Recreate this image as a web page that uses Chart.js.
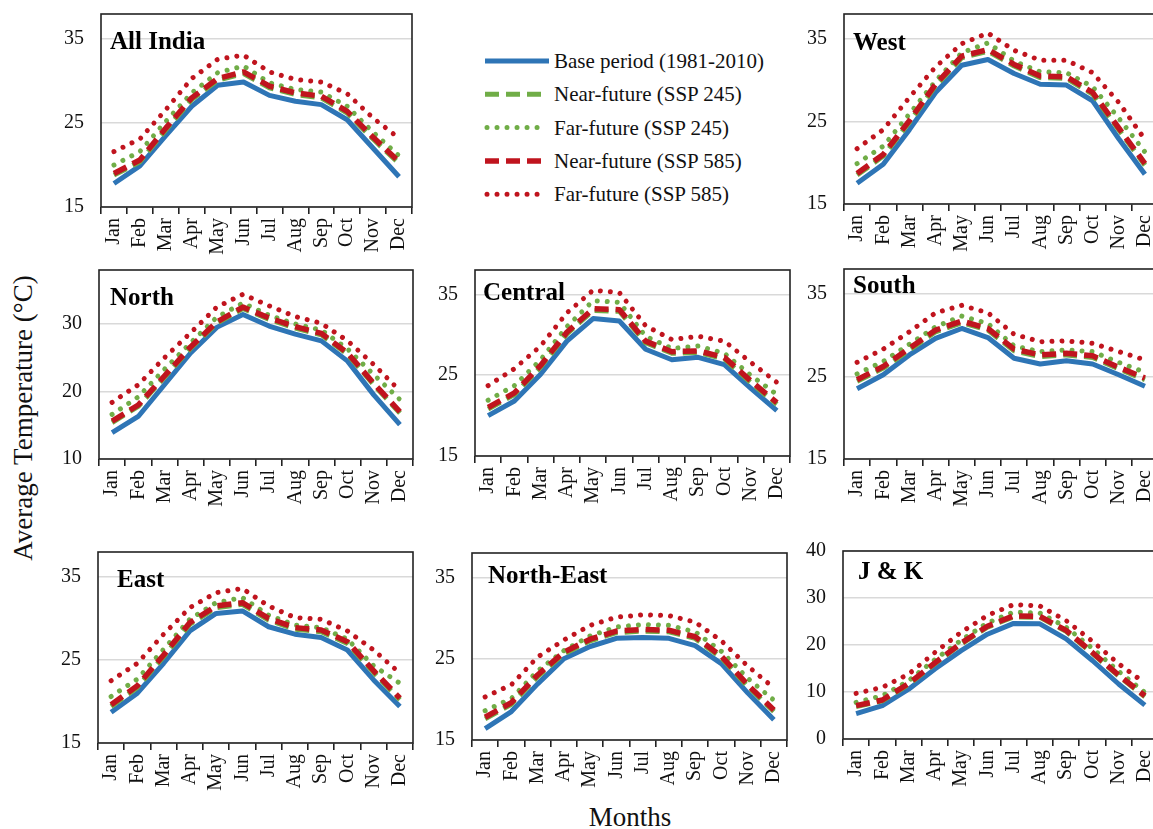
<!DOCTYPE html>
<html>
<head>
<meta charset="utf-8">
<script src="https://cdn.jsdelivr.net/npm/chart.js@4/dist/chart.umd.min.js"></script>
<style>
  html, body { margin: 0; padding: 0; background: #fff; overflow: hidden; }
  body { width: 1153px; height: 829px; position: relative; font-family: "Liberation Serif", "Times New Roman", serif; color: #111; }
  .panel { position: absolute; }
  .ytitle { position: absolute; left: 23px; top: 418px; transform: translate(-50%, -50%) rotate(-90deg); font-size: 27px; white-space: nowrap; }
  .xtitle { position: absolute; left: 630px; top: 817px; transform: translate(-50%, -50%); font-size: 27px; white-space: nowrap; }
  #legend { position: absolute; left: 480px; top: 40px; width: 320px; height: 175px; }
  #legend text { font-family: "Liberation Serif", "Times New Roman", serif; font-size: 21px; fill: #111; }
</style>
</head>
<body>
<div class="ytitle">Average Temperature (°C)</div>
<div class="xtitle">Months</div>
<svg id="legend" width="320" height="175"></svg>

<script>
const months = ['Jan', 'Feb', 'Mar', 'Apr', 'May', 'Jun', 'Jul', 'Aug', 'Sep', 'Oct', 'Nov', 'Dec'];
const seriesNames = ['Base period (1981-2010)', 'Near-future (SSP 245)', 'Far-future (SSP 245)', 'Near-future (SSP 585)', 'Far-future (SSP 585)'];

// All India
const allIndiaBase    = [17.8, 19.9, 23.5, 27.0, 29.5, 29.9, 28.3, 27.6, 27.2, 25.4, 22.0, 18.6];
const allIndiaNear245 = [18.8, 20.4, 24.2, 27.8, 30.1, 30.9, 29.2, 28.4, 28.0, 26.2, 23.1, 20.2];
const allIndiaFar245  = [20.0, 21.6, 25.2, 28.6, 31.0, 31.8, 29.8, 29.0, 28.7, 27.0, 23.9, 21.1];
const allIndiaNear585 = [19.0, 20.6, 24.4, 28.0, 30.3, 31.1, 29.4, 28.6, 28.2, 26.4, 23.3, 20.4];
const allIndiaFar585  = [21.6, 23.1, 26.6, 30.3, 32.6, 33.1, 31.1, 30.2, 29.9, 28.5, 25.6, 23.2];

// West
const westBase    = [17.5, 19.8, 24.0, 28.5, 31.8, 32.5, 30.8, 29.5, 29.4, 27.5, 22.9, 18.6];
const westNear245 = [18.5, 20.8, 24.9, 29.3, 32.7, 33.5, 31.7, 30.3, 30.2, 28.3, 24.0, 19.7];
const westFar245  = [19.9, 22.0, 25.9, 29.9, 33.3, 34.5, 32.3, 31.0, 30.9, 29.2, 25.4, 21.3];
const westNear585 = [18.7, 21.0, 25.1, 29.5, 32.9, 33.7, 31.9, 30.5, 30.4, 28.5, 24.2, 19.9];
const westFar585  = [21.7, 24.0, 27.9, 31.6, 34.4, 35.7, 33.6, 32.4, 32.4, 30.9, 27.3, 22.8];

// North
const northBase    = [13.9, 16.3, 21.0, 25.7, 29.5, 31.4, 29.7, 28.5, 27.5, 24.5, 19.5, 15.1];
const northNear245 = [15.4, 17.8, 22.1, 26.4, 30.1, 32.3, 30.7, 29.4, 28.4, 25.5, 21.0, 16.8];
const northFar245  = [16.6, 19.2, 23.3, 27.2, 31.0, 33.1, 31.3, 30.0, 29.1, 26.3, 22.5, 18.8];
const northNear585 = [15.6, 18.0, 22.3, 26.6, 30.3, 32.5, 30.9, 29.6, 28.6, 25.7, 21.2, 17.0];
const northFar585  = [18.4, 21.0, 25.0, 28.7, 32.5, 34.4, 32.7, 31.1, 30.1, 27.5, 24.0, 20.1];

// Central
const centralBase    = [20.0, 21.8, 25.1, 29.2, 32.0, 31.7, 28.2, 26.9, 27.2, 26.3, 23.4, 20.6];
const centralNear245 = [20.8, 22.6, 26.0, 30.1, 33.0, 32.9, 29.0, 27.7, 27.8, 27.0, 24.1, 21.4];
const centralFar245  = [21.9, 23.7, 26.9, 31.0, 34.2, 34.0, 29.8, 28.3, 28.6, 27.7, 25.0, 22.6];
const centralNear585 = [21.0, 22.8, 26.2, 30.3, 33.2, 33.1, 29.2, 27.9, 28.0, 27.2, 24.3, 21.6];
const centralFar585  = [23.7, 25.8, 28.6, 32.7, 35.5, 35.2, 31.1, 29.4, 29.8, 29.2, 26.6, 24.1];

// South
const southBase    = [23.5, 25.2, 27.6, 29.6, 30.8, 29.7, 27.2, 26.5, 26.9, 26.5, 25.2, 23.8];
const southNear245 = [24.4, 26.0, 28.2, 30.4, 31.5, 30.6, 28.1, 27.4, 27.6, 27.3, 25.9, 24.6];
const southFar245  = [25.3, 26.8, 28.9, 31.0, 32.3, 31.4, 28.7, 28.0, 28.2, 28.0, 26.7, 25.5];
const southNear585 = [24.6, 26.2, 28.4, 30.6, 31.7, 30.8, 28.3, 27.6, 27.8, 27.5, 26.1, 24.8];
const southFar585  = [26.7, 28.3, 30.4, 32.7, 33.6, 32.7, 30.1, 29.2, 29.3, 29.0, 28.0, 27.0];

// East
const eastBase    = [18.7, 21.0, 24.6, 28.5, 30.6, 30.9, 29.0, 28.1, 27.7, 26.2, 22.6, 19.4];
const eastNear245 = [19.4, 21.7, 25.4, 29.3, 31.3, 31.7, 29.8, 28.7, 28.4, 27.0, 23.5, 20.2];
const eastFar245  = [20.6, 22.7, 26.3, 29.9, 31.9, 32.5, 30.4, 29.2, 28.9, 27.5, 24.3, 22.2];
const eastNear585 = [19.6, 21.9, 25.6, 29.5, 31.5, 31.9, 30.0, 28.9, 28.6, 27.2, 23.7, 20.4];
const eastFar585  = [22.5, 24.6, 28.1, 31.3, 33.1, 33.6, 31.5, 30.1, 29.9, 28.5, 26.2, 23.4];

// North-East
const neBase    = [16.4, 18.5, 21.9, 25.0, 26.5, 27.5, 27.6, 27.5, 26.6, 24.4, 20.8, 17.5];
const neNear245 = [17.6, 19.4, 22.8, 25.6, 27.2, 28.2, 28.4, 28.3, 27.5, 25.1, 21.6, 18.5];
const neFar245  = [18.6, 20.1, 23.5, 26.0, 27.8, 28.9, 29.2, 29.1, 28.3, 25.9, 22.6, 19.9];
const neNear585 = [17.8, 19.6, 23.0, 25.8, 27.4, 28.4, 28.6, 28.5, 27.7, 25.3, 21.8, 18.7];
const neFar585  = [20.3, 21.8, 25.2, 27.3, 29.1, 30.1, 30.4, 30.3, 29.5, 27.2, 24.1, 21.4];

// J & K
const jkBase    = [5.4, 7.1, 10.6, 14.9, 18.8, 22.3, 24.6, 24.5, 21.3, 16.7, 11.7, 7.2];
const jkNear245 = [6.9, 8.1, 11.6, 16.0, 20.2, 23.8, 26.0, 25.9, 22.9, 18.2, 13.4, 9.0];
const jkFar245  = [7.8, 9.2, 12.4, 16.9, 21.0, 24.7, 27.0, 26.8, 23.8, 19.3, 14.4, 9.9];
const jkNear585 = [7.1, 8.3, 11.8, 16.2, 20.4, 24.0, 26.2, 26.1, 23.1, 18.4, 13.6, 9.2];
const jkFar585  = [9.7, 11.0, 13.8, 18.4, 22.7, 26.3, 28.6, 28.3, 25.2, 20.8, 16.0, 11.9];

const ticks15 = [15, 25, 35];
const ticks10 = [10, 20, 30];
const ticks0 = [0, 10, 20, 30, 40];

const BLUE = '#2E75B6';
const GREEN = '#70AD47';
const RED = '#C0141E';
const FONT = '"Liberation Serif", "Times New Roman", serif';

// line styles for the five series, in legend order
const styles = [
  { color: BLUE, width: 5, dash: [], cap: 'butt', order: 5 },
  { color: GREEN, width: 5, dash: [14, 7], cap: 'butt', order: 4 },
  { color: GREEN, width: 5, dash: [0.01, 10], cap: 'round', order: 3 },
  { color: RED, width: 5.5, dash: [14, 7], cap: 'butt', order: 2 },
  { color: RED, width: 5, dash: [0.01, 10], cap: 'round', order: 1 }
];

// plot box positions on the page: left, right, top, bottom
const panels = [
  { title: 'All India', box: [101, 412, 14, 207], min: 15, max: 38, ticks: ticks15, tdx: 9, tdy: 35,
    series: [allIndiaBase, allIndiaNear245, allIndiaFar245, allIndiaNear585, allIndiaFar585] },
  { title: 'West', box: [844, 1158, 14, 204], min: 15, max: 38, ticks: ticks15, tdx: 9, tdy: 36,
    series: [westBase, westNear245, westFar245, westNear585, westFar585] },
  { title: 'North', box: [99, 413, 270, 459], min: 10, max: 38, ticks: ticks10, tdx: 11, tdy: 35,
    series: [northBase, northNear245, northFar245, northNear585, northFar585] },
  { title: 'Central', box: [475, 790, 270, 456], min: 15, max: 38, ticks: ticks15, tdx: 8, tdy: 30,
    series: [centralBase, centralNear245, centralFar245, centralNear585, centralFar585] },
  { title: 'South', box: [844, 1158, 269, 459], min: 15, max: 38, ticks: ticks15, tdx: 9, tdy: 24,
    series: [southBase, southNear245, southFar245, southNear585, southFar585] },
  { title: 'East', box: [98, 413, 552, 743], min: 15, max: 38, ticks: ticks15, tdx: 19, tdy: 35,
    series: [eastBase, eastNear245, eastFar245, eastNear585, eastFar585] },
  { title: 'North-East', box: [472, 787, 553, 740], min: 15, max: 38, ticks: ticks15, tdx: 16, tdy: 30,
    series: [neBase, neNear245, neFar245, neNear585, neFar585] },
  { title: 'J & K', box: [843, 1158, 551, 739], min: 0, max: 40, ticks: ticks0, tdx: 15, tdy: 28,
    series: [jkBase, jkNear245, jkFar245, jkNear585, jkFar585] }
];

const YW = 60, XH = 62, PAD = 14;

// frame around the plot area and the panel name
const framePlugin = {
  id: 'frame',
  afterDraw(chart, args, opts) {
    const a = chart.chartArea, ctx = chart.ctx;
    ctx.save();
    ctx.strokeStyle = '#222';
    ctx.lineWidth = 1.6;
    ctx.strokeRect(a.left, a.top, a.right - a.left, a.bottom - a.top);
    ctx.font = 'bold 25px ' + FONT;
    ctx.fillStyle = '#000';
    ctx.textBaseline = 'alphabetic';
    ctx.fillText(opts.text, a.left + opts.dx, a.top + opts.dy);
    ctx.restore();
  }
};

panels.forEach(function(p) {
  const [L, R, T, B] = p.box;
  const div = document.createElement('div');
  div.className = 'panel';
  const w = R - L + YW + 4, h = B - T + XH + PAD;
  div.style.left = (L - YW) + 'px';
  div.style.top = (T - PAD) + 'px';
  div.style.width = w + 'px';
  div.style.height = h + 'px';
  const canvas = document.createElement('canvas');
  div.appendChild(canvas);
  document.body.appendChild(div);

  new Chart(canvas.getContext('2d'), {
    type: 'line',
    data: {
      labels: months,
      datasets: p.series.map(function(values, i) {
        const s = styles[i];
        return {
          label: seriesNames[i],
          data: values,
          borderColor: s.color,
          backgroundColor: s.color,
          borderWidth: s.width,
          borderDash: s.dash,
          borderCapStyle: s.cap,
          borderJoinStyle: 'round',
          pointRadius: 0,
          tension: 0,
          order: s.order
        };
      })
    },
    options: {
      responsive: true,
      maintainAspectRatio: false,
      animation: false,
      layout: { padding: { top: PAD, right: 4, left: 0, bottom: 0 } },
      plugins: {
        legend: { display: false },
        tooltip: { enabled: false },
        frame: { text: p.title, dx: p.tdx, dy: p.tdy }
      },
      scales: {
        x: {
          offset: true,
          border: { display: false },
          grid: { offset: true, drawOnChartArea: false, drawTicks: true, tickLength: 7, color: '#222', lineWidth: 1.6 },
          ticks: { minRotation: 90, maxRotation: 90, autoSkip: false, padding: 4, color: '#111', font: { family: FONT, size: 20 } },
          afterFit: function(s) { s.height = XH; s.paddingLeft = 0; s.paddingRight = 0; }
        },
        y: {
          min: p.min,
          max: p.max,
          border: { display: false },
          grid: { drawTicks: false, color: '#d9d9d9', lineWidth: 1.5 },
          ticks: { padding: 17, color: '#111', font: { family: FONT, size: 20 } },
          afterBuildTicks: function(s) { s.ticks = p.ticks.map(function(v) { return { value: v }; }); },
          afterFit: function(s) { s.width = YW; s.paddingTop = 0; s.paddingBottom = 0; }
        }
      }
    },
    plugins: [framePlugin]
  });
});

// legend panel
const svg = document.getElementById('legend');
const NS = 'http://www.w3.org/2000/svg';
styles.forEach(function(s, i) {
  const y = 21 + i * 33.3;
  const line = document.createElementNS(NS, 'line');
  line.setAttribute('x1', 5 + (s.cap === 'round' ? 2 : 0));
  line.setAttribute('x2', i === 0 ? 69 : 62);
  line.setAttribute('y1', y);
  line.setAttribute('y2', y);
  line.setAttribute('stroke', s.color);
  line.setAttribute('stroke-width', s.width);
  line.setAttribute('stroke-linecap', s.cap);
  if (s.dash.length) line.setAttribute('stroke-dasharray', s.dash.join(' '));
  svg.appendChild(line);
  const t = document.createElementNS(NS, 'text');
  t.setAttribute('x', 74);
  t.setAttribute('y', y + 7);
  t.textContent = seriesNames[i];
  svg.appendChild(t);
});
</script>
</body>
</html>
